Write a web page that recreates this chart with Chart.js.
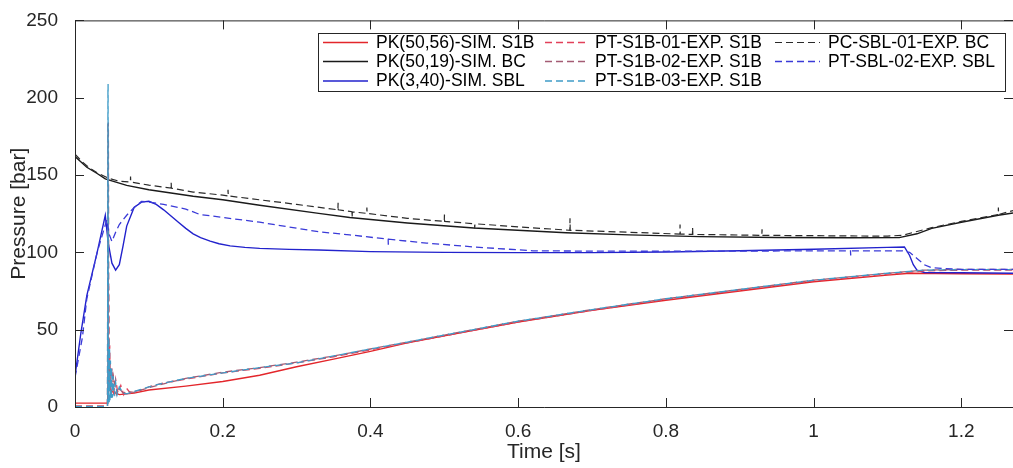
<!DOCTYPE html>
<html>
<head>
<meta charset="utf-8">
<script src="https://cdn.jsdelivr.net/npm/chart.js@4/dist/chart.umd.min.js"></script>
<style>
  html, body { margin: 0; padding: 0; background: #fff; }
  canvas { display: block; }
</style>
</head>
<body>
<canvas id="chart" width="1013" height="468"></canvas>
<script>
// ---- data: time [s] / pressure [bar] ----

// PK(50,56)-SIM. S1B
const simS1B_t = [0, 0.044, 0.0455, 0.047, 0.05, 0.06, 0.08, 0.1, 0.15, 0.2, 0.25, 0.3, 0.35, 0.4, 0.45, 0.5, 0.6, 0.7, 0.8, 0.9, 1.0, 1.1, 1.13, 1.2, 1.27];
const simS1B_p = [2.5, 2.5, 16, 12, 10, 8, 9, 11, 13.5, 16.5, 20.5, 26, 31, 36, 41.5, 46, 55, 62.5, 69, 75, 81, 85.3, 86.5, 86.2, 86];

// PK(50,19)-SIM. BC
const simBC_t = [0, 0.016, 0.03, 0.041, 0.07, 0.1, 0.16, 0.2, 0.25, 0.33, 0.372, 0.45, 0.54, 0.665, 0.75, 0.846, 0.95, 1.05, 1.116, 1.14, 1.16, 1.2, 1.25, 1.27];
const simBC_p = [162, 155, 151, 147.5, 143.3, 140.5, 136.3, 134, 130.5, 125.2, 122.5, 119, 115.8, 112.7, 111.3, 110.2, 109.6, 109.4, 109.5, 112, 115.5, 119.5, 124, 125.5];

// PK(3,40)-SIM. SBL
const simSBL_t = [0, 0.008, 0.016, 0.03, 0.041, 0.045, 0.05, 0.055, 0.06, 0.065, 0.07, 0.08, 0.09, 0.1, 0.11, 0.12, 0.13, 0.14, 0.15, 0.16, 0.17, 0.183, 0.195, 0.21, 0.23, 0.25, 0.29, 0.33, 0.4, 0.5, 0.6, 0.7, 0.8, 0.9, 1.0, 1.1, 1.123, 1.13, 1.135, 1.14, 1.15, 1.2, 1.27];
const simSBL_p = [20, 48, 72, 100, 124, 106, 93, 88.5, 92, 104, 117, 129, 132.5, 133, 131, 127.5, 123.5, 119.5, 115.5, 112, 109.5, 107.3, 105.6, 104.2, 103.2, 102.6, 101.9, 101.5, 100.5, 100, 99.8, 99.8, 100.2, 101, 102, 103.2, 103.5, 98, 92, 88.5, 87, 86.8, 86.5];

// PT-S1B-01-EXP. S1B
const exp01_t = [0, 0.044, 0.0448, 0.0451, 0.0454, 0.0458, 0.0462, 0.047, 0.048, 0.05, 0.052, 0.055, 0.058, 0.062, 0.066, 0.07, 0.075, 0.08, 0.09, 0.1, 0.12, 0.15, 0.2, 0.25, 0.3, 0.35, 0.4, 0.45, 0.5, 0.6, 0.7, 0.8, 0.9, 1.0, 1.1, 1.15, 1.2, 1.27];
const exp01_p = [0.5, 0.5, 83, 3, 78, 60, 20, 40, 10, 25, 8, 18, 9, 14, 8, 12, 9, 10, 11, 13, 15.5, 18, 22, 25, 28.5, 32.5, 37, 41.5, 46, 55, 62.5, 69.5, 75.5, 81.5, 86, 88, 88.5, 88.5];

// PT-S1B-02-EXP. S1B
const exp02_t = [0, 0.044, 0.0445, 0.0447, 0.0449, 0.0452, 0.046, 0.047, 0.049, 0.052, 0.056, 0.06, 0.065, 0.07, 0.08, 0.09, 0.1, 0.12, 0.15, 0.2, 0.25, 0.3, 0.35, 0.4, 0.45, 0.5, 0.6, 0.7, 0.8, 0.9, 1.0, 1.1, 1.15, 1.2, 1.27];
const exp02_p = [0.5, 0.5, 184, 4, 180, 184, 15, 30, 6, 20, 8, 12, 9, 10, 9.5, 11, 12.5, 15, 18.5, 22.5, 25.5, 29, 33, 37.5, 42, 46.5, 55.5, 63, 70, 76, 82, 86.5, 88.5, 89, 89];

// PT-S1B-03-EXP. S1B
const exp03_t = [0, 0.044, 0.0446, 0.0447, 0.0448, 0.0452, 0.0458, 0.0463, 0.0468, 0.0474, 0.048, 0.0488, 0.0496, 0.0505, 0.0515, 0.053, 0.055, 0.057, 0.06, 0.065, 0.07, 0.08, 0.09, 0.1, 0.12, 0.15, 0.2, 0.25, 0.3, 0.35, 0.4, 0.45, 0.5, 0.6, 0.7, 0.8, 0.9, 1.0, 1.1, 1.15, 1.2, 1.27];
const exp03_p = [0.3, 0.3, 206, 2, 210, 3, 45, 2, 38, 4, 30, 5, 25, 6, 20, 7, 16, 8, 13, 9, 8.5, 10, 11.5, 13, 15.5, 18.5, 22, 25.5, 28.5, 33, 37.5, 42, 46.5, 55.5, 63, 70, 76, 82, 86.5, 88.5, 88.8, 88.8];

// PC-SBL-01-EXP. BC (with the short spikes seen in the trace)
const expBC_t = [0, 0.01, 0.02, 0.03, 0.045, 0.06, 0.075, 0.0752, 0.0755, 0.1, 0.13, 0.1302, 0.1305, 0.16, 0.2, 0.207, 0.2072, 0.2075, 0.25, 0.3, 0.356, 0.3562, 0.3565, 0.375, 0.3752, 0.3755, 0.395, 0.3952, 0.3955, 0.45, 0.5, 0.5002, 0.5005, 0.541, 0.5412, 0.5415, 0.6, 0.67, 0.6702, 0.6705, 0.75, 0.819, 0.8192, 0.8195, 0.836, 0.8362, 0.8365, 0.9, 0.93, 0.9302, 0.9305, 1.0, 1.05, 1.1, 1.12, 1.14, 1.16, 1.2, 1.25, 1.2502, 1.2505, 1.27];
const expBC_p = [163.5, 158.5, 154.5, 151.5, 148, 146, 145.5, 149, 145.5, 143.5, 141.5, 145, 141.5, 139, 137, 136.5, 140.5, 136.5, 134, 131, 127.5, 132, 127.5, 126.3, 122.5, 126.2, 125.2, 129, 125.2, 122, 120, 124.5, 120, 118.5, 115.5, 118.5, 116.5, 114.3, 122, 114.3, 113, 111.8, 118, 111.8, 111.6, 116, 111.6, 111.2, 111, 115, 111, 110.8, 110.6, 110.5, 111, 113.5, 116, 120, 124.5, 129, 124.5, 127];

// PT-SBL-02-EXP. SBL
const expSBL_t = [0, 0.01, 0.016, 0.03, 0.043, 0.046, 0.05, 0.055, 0.06, 0.07, 0.08, 0.09, 0.1, 0.12, 0.15, 0.169, 0.25, 0.33, 0.372, 0.424, 0.4242, 0.4245, 0.476, 0.54, 0.62, 0.7, 0.8, 0.9, 1.0, 1.05, 1.0502, 1.0505, 1.12, 1.13, 1.14, 1.15, 1.16, 1.2, 1.27];
const expSBL_p = [19, 45, 70, 100, 121, 112, 107, 113, 118, 124, 129, 133, 132.5, 131, 128, 124.5, 119.5, 113.3, 111.3, 108.5, 105, 108.5, 106, 103.5, 101, 100.8, 100.7, 100.8, 101, 101, 98, 101, 101, 100, 96, 92, 90, 89, 89];

const xTickVals = [0, 0.2, 0.4, 0.6, 0.8, 1, 1.2];
const yTickVals = [0, 50, 100, 150, 200, 250];

const series = [
  { label: 'PK(50,56)-SIM. S1B',  t: simS1B_t, p: simS1B_p, color: '#e3262b', dash: [],     width: 1.4 },
  { label: 'PK(50,19)-SIM. BC',   t: simBC_t,  p: simBC_p,  color: '#1a1a1a', dash: [],     width: 1.4 },
  { label: 'PK(3,40)-SIM. SBL',   t: simSBL_t, p: simSBL_p, color: '#2222cc', dash: [],     width: 1.4 },
  { label: 'PT-S1B-01-EXP. S1B',  t: exp01_t,  p: exp01_p,  color: '#e2405a', dash: [7, 4], width: 1.3 },
  { label: 'PT-S1B-02-EXP. S1B',  t: exp02_t,  p: exp02_p,  color: '#a45c74', dash: [7, 4], width: 1.3 },
  { label: 'PT-S1B-03-EXP. S1B',  t: exp03_t,  p: exp03_p,  color: '#3f9cc8', dash: [7, 4], width: 1.3 },
  { label: 'PC-SBL-01-EXP. BC',   t: expBC_t,  p: expBC_p,  color: '#2a2a2a', dash: [7, 4], width: 1.2 },
  { label: 'PT-SBL-02-EXP. SBL',  t: expSBL_t, p: expSBL_p, color: '#3a3ad8', dash: [7, 4], width: 1.3 }
];

const FONT = 'Liberation Sans, Arial, sans-serif';
const AXIS = '#262626';

// box with inward ticks on all sides, like the matlab figure
const frame = {
  id: 'frame',
  afterDraw(chart) {
    const { ctx, chartArea: a, scales: { x, y } } = chart;
    const len = 9;
    ctx.save();
    ctx.strokeStyle = AXIS;
    ctx.lineWidth = 1;
    ctx.beginPath();
    ctx.moveTo(a.left + 0.5, a.top + 0.5);
    ctx.lineTo(a.left + 0.5, a.bottom + 0.5);
    ctx.lineTo(a.right, a.bottom + 0.5);
    ctx.moveTo(a.left + 0.5, a.top + 0.5);
    ctx.lineTo(a.right, a.top + 0.5);
    xTickVals.forEach(v => {
      const px = Math.round(x.getPixelForValue(v)) + 0.5;
      ctx.moveTo(px, a.bottom);
      ctx.lineTo(px, a.bottom - len);
      ctx.moveTo(px, a.top);
      ctx.lineTo(px, a.top + len);
    });
    yTickVals.forEach(v => {
      const py = Math.round(y.getPixelForValue(v)) + 0.5;
      ctx.moveTo(a.left, py);
      ctx.lineTo(a.left + len, py);
      ctx.moveTo(a.right, py);
      ctx.lineTo(a.right - len, py);
    });
    ctx.stroke();
    ctx.restore();
  }
};

// three-column legend box inside the axes
const legendBox = {
  id: 'legendBox',
  afterDatasetsDraw(chart) {
    const ctx = chart.ctx;
    const box = { x: 318.5, y: 33.5, w: 687, h: 58 };
    const cols = [ { l0: 323, l1: 368, tx: 376 }, { l0: 545, l1: 588, tx: 595 }, { l0: 775, l1: 820, tx: 828 } ];
    const rows = [42, 61, 80.5];
    ctx.save();
    ctx.fillStyle = '#fff';
    ctx.fillRect(box.x, box.y, box.w, box.h);
    ctx.strokeStyle = AXIS;
    ctx.lineWidth = 1;
    ctx.strokeRect(box.x, box.y, box.w, box.h);
    ctx.font = '17.5px ' + FONT;
    ctx.textBaseline = 'middle';
    chart.data.datasets.forEach((ds, i) => {
      const c = cols[Math.floor(i / 3)];
      const r = rows[i % 3];
      ctx.strokeStyle = ds.borderColor;
      ctx.lineWidth = ds.borderWidth;
      ctx.setLineDash(ds.borderDash);
      ctx.beginPath();
      ctx.moveTo(c.l0, r + 0.5);
      ctx.lineTo(c.l1, r + 0.5);
      ctx.stroke();
      ctx.setLineDash([]);
      ctx.fillStyle = '#000';
      ctx.fillText(ds.label, c.tx, r + 1);
    });
    ctx.restore();
  }
};

new Chart(document.getElementById('chart'), {
  type: 'scatter',
  data: {
    datasets: series.map((s, i) => ({
      label: s.label,
      data: s.t.map((t, k) => ({ x: t, y: s.p[k] })),
      borderColor: s.color,
      backgroundColor: s.color,
      borderWidth: s.width,
      borderDash: s.dash,
      showLine: true,
      pointRadius: 0,
      tension: 0,
      fill: false,
      order: series.length - i   // later series on top, as in the original plot
    }))
  },
  options: {
    responsive: false,
    animation: false,
    devicePixelRatio: 1,
    layout: { padding: { top: 13, right: 0, bottom: 0, left: 0 } },
    plugins: { legend: { display: false }, tooltip: { enabled: false } },
    scales: {
      x: {
        type: 'linear', min: 0, max: 1.27,
        grid: { display: false }, border: { display: false },
        ticks: {
          stepSize: 0.2, includeBounds: false, autoSkip: false, maxRotation: 0,
          color: AXIS, font: { family: FONT, size: 19 }, padding: 5,
          callback: v => String(+v.toFixed(2))
        },
        title: { display: true, text: 'Time [s]', color: AXIS, font: { family: FONT, size: 21 }, padding: { top: 0, bottom: 3 } },
        afterFit(s) { s.height = 61; }
      },
      y: {
        min: 0, max: 250,
        grid: { display: false }, border: { display: false },
        ticks: { stepSize: 50, color: AXIS, font: { family: FONT, size: 19 }, padding: 9 },
        title: { display: true, text: 'Pressure [bar]', color: AXIS, font: { family: FONT, size: 21 }, padding: { top: 7, bottom: 0 } },
        afterFit(s) { s.width = 75; }
      }
    }
  },
  plugins: [legendBox, frame]
});
</script>
</body>
</html>
